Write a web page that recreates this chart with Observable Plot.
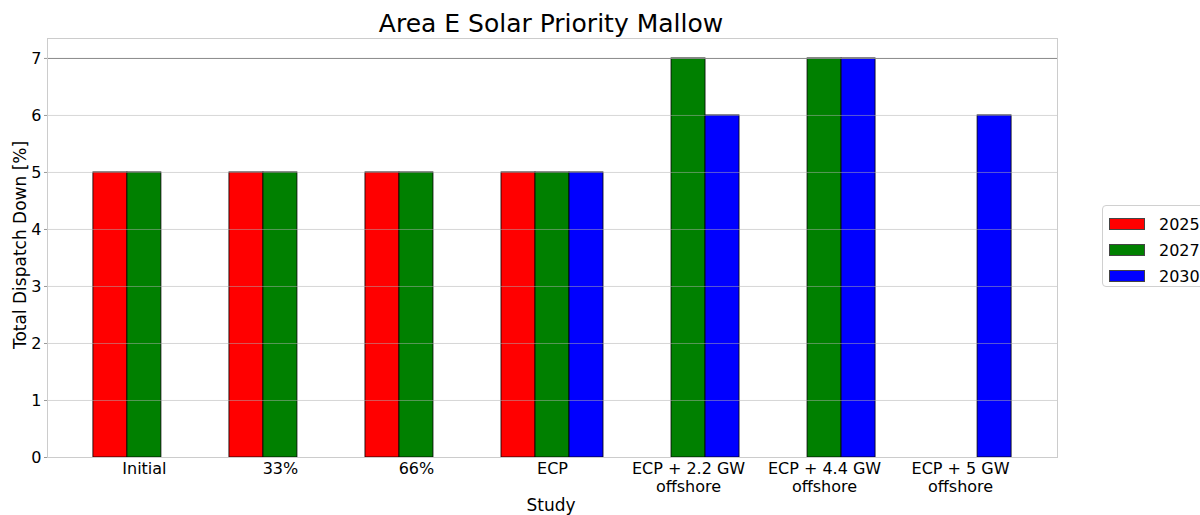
<!DOCTYPE html>
<html><head><meta charset="utf-8">
<script src="https://cdn.jsdelivr.net/npm/d3@7"></script>
<script src="https://cdn.jsdelivr.net/npm/@observablehq/plot@0.6"></script>
<style>
html,body{margin:0;padding:0;width:1200px;height:515px;overflow:hidden;background:#fff;font-family:"DejaVu Sans",sans-serif;}
#wrap{position:relative;width:1200px;height:515px;}
#chart{position:absolute;left:0;top:0;}
#title{position:absolute;left:0;width:1102px;top:9px;text-align:center;font-size:25px;color:#000;}
#ylab{position:absolute;left:20px;top:245px;transform:translate(-50%,-50%) rotate(-90deg);font-size:17px;white-space:nowrap;color:#000;}
#xlab{position:absolute;left:0;width:1102px;top:495px;text-align:center;font-size:17px;color:#000;}
#legend{position:absolute;left:1102px;top:205px;width:120px;height:82px;border:1px solid #d0d0d0;border-radius:4px;box-sizing:border-box;padding:5px 0 0 6px;}
.item{display:flex;align-items:center;height:26px;font-size:16px;color:#000;}
.sw{width:36px;height:12px;margin-right:14px;border:0.8px solid #444;box-sizing:border-box;}
</style></head>
<body><div id="wrap"><div id="chart"></div>
<div id="title">Area E Solar Priority Mallow</div>
<div id="ylab">Total Dispatch Down [%]</div>
<div id="xlab">Study</div>
<div id="legend"></div>
</div>
<script>
const studies = ["Initial","33%","66%","ECP","ECP + 2.2 GW\noffshore","ECP + 4.4 GW\noffshore","ECP + 5 GW\noffshore"];
const years = ["2025","2027","2030"];
const v2025 = [5,5,5,5,null,null,null];
const v2027 = [5,5,5,5,7,7,null];
const v2030 = [null,null,null,5,6,7,6];
const colors = ["red","green","blue"];
const yTicks = [0,1,2,3,4,5,6,7];

const series = [v2025, v2027, v2030];
const rows = [];
series.forEach((vals, k) => vals.forEach((v, i) => { if (v != null) rows.push({i, k, year: years[k], value: v}); }));
const bw = 0.25;

const plot = Plot.plot({
  width: 1200, height: 515,
  marginLeft: 47, marginRight: 143, marginTop: 38, marginBottom: 58,
  style: {fontFamily: "DejaVu Sans, sans-serif", fontSize: "16px", color: "#000", background: "#fff"},
  x: {type: "linear", domain: [-0.7125, 6.7125], label: null, axis: null},
  y: {domain: [0, 7.35], label: null, axis: null},
  color: {domain: years, range: colors},
  marks: [
    Plot.rect(rows, {x1: d => d.i + (d.k - 1) * bw - bw / 2, x2: d => d.i + (d.k - 1) * bw + bw / 2, y1: 0, y2: "value", fill: "year", stroke: "black", strokeWidth: 0.8}),
    Plot.ruleY(yTicks.filter(t => t > 0 && t < 7), {stroke: "#b0b0b0", strokeOpacity: 0.5}),
    Plot.ruleY([0, 7], {stroke: "#888"}),
    Plot.frame({stroke: "#cccccc"}),
    Plot.axisY({ticks: yTicks, tickSize: 3, tickPadding: 3, stroke: "#999", fill: "#000", fontSize: 16, label: null}),
    Plot.axisX({ticks: d3.range(studies.length), tickFormat: i => studies[i], tickSize: 0, tickPadding: 4, fontSize: 16, lineHeight: 1.12, fill: "#000", label: null})
  ]
});
document.getElementById("chart").appendChild(plot);

const lg = document.getElementById("legend");
years.forEach((y, k) => {
  const it = document.createElement("div"); it.className = "item";
  const sw = document.createElement("div"); sw.className = "sw"; sw.style.background = colors[k];
  const t = document.createElement("span"); t.textContent = y;
  it.appendChild(sw); it.appendChild(t); lg.appendChild(it);
});
</script></body></html>
